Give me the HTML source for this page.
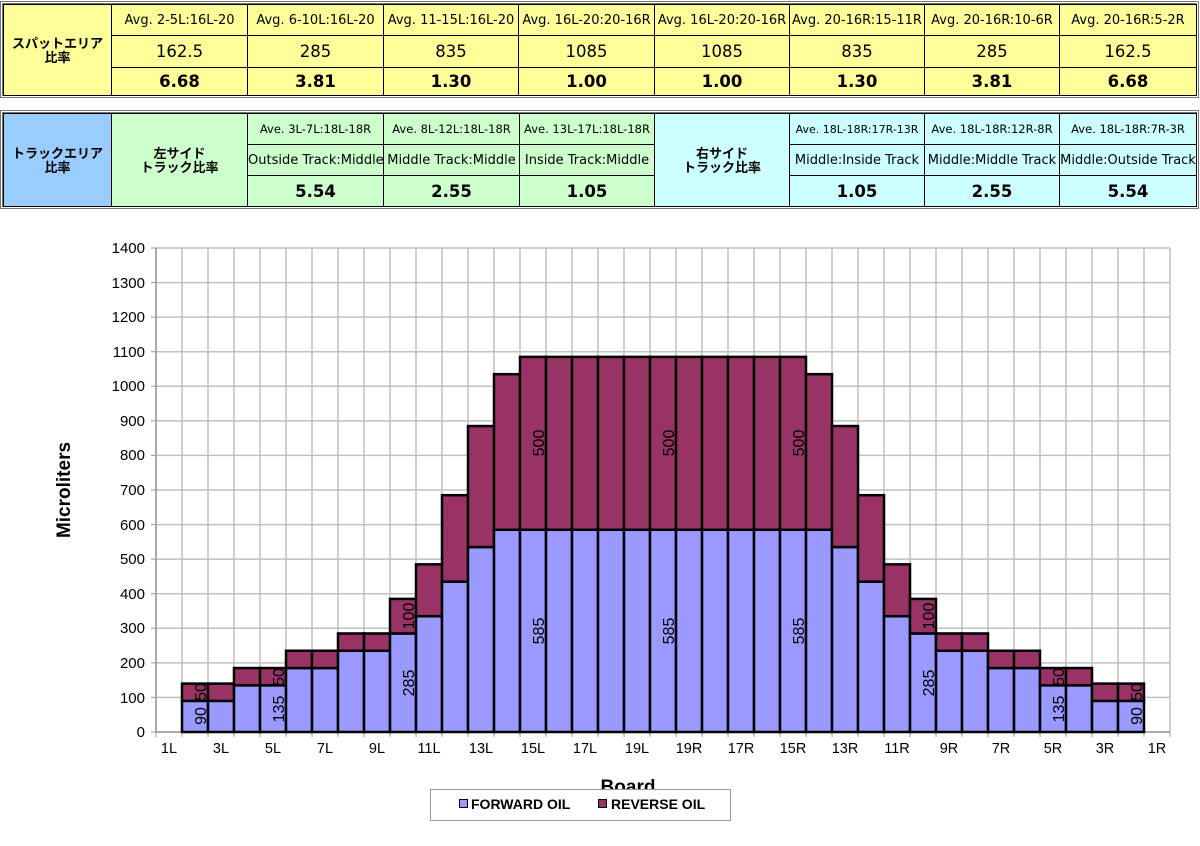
<!DOCTYPE html>
<html><head><meta charset="utf-8">
<style>
body{margin:0;width:1200px;height:846px;background:#fff;position:relative;overflow:hidden;font-family:"DejaVu Sans","Noto Sans CJK JP",sans-serif;}
.tb{position:absolute;border:3px double #777;box-sizing:border-box;}
table{border-collapse:collapse;table-layout:fixed;position:absolute;left:0;top:0;}
td{border:1px solid #000;text-align:center;padding:0;overflow:hidden;white-space:nowrap;color:#000;}
.h{font-size:13px;}
.hs{font-size:11.5px;}
.v{font-size:16.5px;}
.b{font-size:16.5px;font-weight:bold;}
.jp{font-size:13px;font-weight:bold;line-height:14px;font-family:"Noto Sans CJK JP",sans-serif;}
.y{background:#ffff99}.g{background:#ccffcc}.c{background:#ccffff}.bl{background:#99ccff}
</style></head><body>
<div class="tb" style="left:0;top:1px;width:1199px;height:97px;">
<table style="width:1193px;">
<colgroup><col style="width:108px"><col style="width:136px"><col style="width:136px"><col style="width:135px"><col style="width:136px"><col style="width:135px"><col style="width:135px"><col style="width:135px"><col style="width:137px"></colgroup>
<tr style="height:31px"><td class="y jp" rowspan="3">スパットエリア<br>比率</td><td class="y h">Avg. 2-5L:16L-20</td><td class="y h">Avg. 6-10L:16L-20</td><td class="y h">Avg. 11-15L:16L-20</td><td class="y h">Avg. 16L-20:20-16R</td><td class="y h">Avg. 16L-20:20-16R</td><td class="y h">Avg. 20-16R:15-11R</td><td class="y h">Avg. 20-16R:10-6R</td><td class="y h">Avg. 20-16R:5-2R</td></tr>
<tr style="height:32px"><td class="y v">162.5</td><td class="y v">285</td><td class="y v">835</td><td class="y v">1085</td><td class="y v">1085</td><td class="y v">835</td><td class="y v">285</td><td class="y v">162.5</td></tr>
<tr style="height:28px"><td class="y b">6.68</td><td class="y b">3.81</td><td class="y b">1.30</td><td class="y b">1.00</td><td class="y b">1.00</td><td class="y b">1.30</td><td class="y b">3.81</td><td class="y b">6.68</td></tr>
</table></div>
<div class="tb" style="left:0;top:110px;width:1199px;height:99px;">
<table style="width:1193px;">
<colgroup><col style="width:108px"><col style="width:136px"><col style="width:136px"><col style="width:136px"><col style="width:135px"><col style="width:135px"><col style="width:135px"><col style="width:135px"><col style="width:137px"></colgroup>
<tr style="height:31px"><td class="bl jp" rowspan="3">トラックエリア<br>比率</td><td class="g jp" rowspan="3">左サイド<br>トラック比率</td><td class="g hs">Ave. 3L-7L:18L-18R</td><td class="g hs">Ave. 8L-12L:18L-18R</td><td class="g hs">Ave. 13L-17L:18L-18R</td><td class="c jp" rowspan="3">右サイド<br>トラック比率</td><td class="c hs" style="font-size:11px">Ave. 18L-18R:17R-13R</td><td class="c hs">Ave. 18L-18R:12R-8R</td><td class="c hs">Ave. 18L-18R:7R-3R</td></tr>
<tr style="height:31px"><td class="g h">Outside Track:Middle</td><td class="g h">Middle Track:Middle</td><td class="g h">Inside Track:Middle</td><td class="c h">Middle:Inside Track</td><td class="c h">Middle:Middle Track</td><td class="c h">Middle:Outside Track</td></tr>
<tr style="height:31px"><td class="g b">5.54</td><td class="g b">2.55</td><td class="g b">1.05</td><td class="c b">1.05</td><td class="c b">2.55</td><td class="c b">5.54</td></tr>
</table></div>

<svg id="ch" width="1200" height="846" style="position:absolute;left:0;top:0" font-family="Liberation Sans, Arial, sans-serif">
<g id="grid"></g>
<g id="bars"></g>
<g font-size="15" text-anchor="end">
<text x="145" y="253">1400</text><text x="145" y="288">1300</text><text x="145" y="322">1200</text><text x="145" y="357">1100</text><text x="145" y="391">1000</text><text x="145" y="426">900</text><text x="145" y="460">800</text><text x="145" y="495">700</text><text x="145" y="530">600</text><text x="145" y="564">500</text><text x="145" y="599">400</text><text x="145" y="633">300</text><text x="145" y="668">200</text><text x="145" y="703">100</text><text x="145" y="737">0</text>
</g>
<g font-size="14.5" text-anchor="middle">
<text x="169" y="753">1L</text><text x="221" y="753">3L</text><text x="273" y="753">5L</text><text x="325" y="753">7L</text><text x="377" y="753">9L</text><text x="429" y="753">11L</text><text x="481" y="753">13L</text><text x="533" y="753">15L</text><text x="585" y="753">17L</text><text x="637" y="753">19L</text><text x="689" y="753">19R</text><text x="741" y="753">17R</text><text x="793" y="753">15R</text><text x="845" y="753">13R</text><text x="897" y="753">11R</text><text x="949" y="753">9R</text><text x="1001" y="753">7R</text><text x="1053" y="753">5R</text><text x="1105" y="753">3R</text><text x="1157" y="753">1R</text>
</g>
<g font-size="16" text-anchor="middle" fill="#000">
<text transform="translate(200,716) rotate(-90)" dy="6">90</text>
<text transform="translate(200,692) rotate(-90)" dy="6">50</text>
<text transform="translate(278,709) rotate(-90)" dy="6">135</text>
<text transform="translate(278,677) rotate(-90)" dy="6">50</text>
<text transform="translate(408,683) rotate(-90)" dy="6">285</text>
<text transform="translate(408,616) rotate(-90)" dy="6">100</text>
<text transform="translate(538,631) rotate(-90)" dy="6">585</text>
<text transform="translate(538,443) rotate(-90)" dy="6">500</text>
<text transform="translate(668,631) rotate(-90)" dy="6">585</text>
<text transform="translate(668,443) rotate(-90)" dy="6">500</text>
<text transform="translate(798,631) rotate(-90)" dy="6">585</text>
<text transform="translate(798,443) rotate(-90)" dy="6">500</text>
<text transform="translate(928,683) rotate(-90)" dy="6">285</text>
<text transform="translate(928,616) rotate(-90)" dy="6">100</text>
<text transform="translate(1058,709) rotate(-90)" dy="6">135</text>
<text transform="translate(1058,677) rotate(-90)" dy="6">50</text>
<text transform="translate(1136,716) rotate(-90)" dy="6">90</text>
<text transform="translate(1136,692) rotate(-90)" dy="6">50</text>
</g>
<text transform="translate(70,490) rotate(-90)" font-size="19" font-weight="bold" text-anchor="middle">Microliters</text>
<text x="628" y="793" font-size="19" font-weight="bold" text-anchor="middle">Board</text>
<rect x="430.5" y="789.5" width="300" height="31" fill="#fff" stroke="#999"/>
<rect x="459.5" y="799.5" width="8" height="8" fill="#9999ff" stroke="#000"/>
<text x="471" y="809" font-size="14" font-weight="bold">FORWARD OIL</text>
<rect x="598.5" y="799.5" width="8" height="8" fill="#993366" stroke="#000"/>
<text x="611" y="809" font-size="14" font-weight="bold">REVERSE OIL</text>
</svg>
<script>
(function(){
var NS="http://www.w3.org/2000/svg";
var g=document.getElementById("grid"),b=document.getElementById("bars");
function el(p,t,a){var e=document.createElementNS(NS,t);for(var k in a)e.setAttribute(k,a[k]);p.appendChild(e);return e;}
var x0=156,cw=26,y0=732,k=484/1400;
for(var i=0;i<=14;i++){var y=y0-i*100*k;el(g,"line",{x1:x0,x2:1170,y1:y,y2:y,stroke:"#c0c0c0","stroke-width":1.5});el(g,"line",{x1:151,x2:156,y1:y,y2:y,stroke:"#999"});}
for(var i=0;i<=39;i++){var x=x0+i*cw;el(g,"line",{x1:x,x2:x,y1:248,y2:y0,stroke:"#c0c0c0","stroke-width":1.5});el(g,"line",{x1:x,x2:x,y1:y0,y2:y0+5,stroke:"#999"});}
el(g,"line",{x1:x0,x2:x0,y1:248,y2:y0,stroke:"#999","stroke-width":1.5});
el(g,"line",{x1:x0,x2:1170,y1:y0,y2:y0,stroke:"#999","stroke-width":1.5});
var F=[0,90,90,135,135,185,185,235,235,285,335,435,535,585];
var R=[0,50,50,50,50,50,50,50,50,100,150,250,350,450];
var fw=[],rv=[];
for(var i=0;i<14;i++){fw.push(F[i]);rv.push(R[i]);}
for(var i=0;i<11;i++){fw.push(585);rv.push(500);}
for(var i=13;i>=0;i--){fw.push(F[i]);rv.push(R[i]);}
for(var i=0;i<39;i++){if(!fw[i])continue;var x=x0+i*cw;
var yf=y0-fw[i]*k,yr=y0-(fw[i]+rv[i])*k;
el(b,"rect",{x:x,y:yf,width:cw,height:y0-yf,fill:"#9999ff",stroke:"#000","stroke-width":2.5});
el(b,"rect",{x:x,y:yr,width:cw,height:yf-yr,fill:"#993366",stroke:"#000","stroke-width":2.5});}
})();
</script>
</body></html>
